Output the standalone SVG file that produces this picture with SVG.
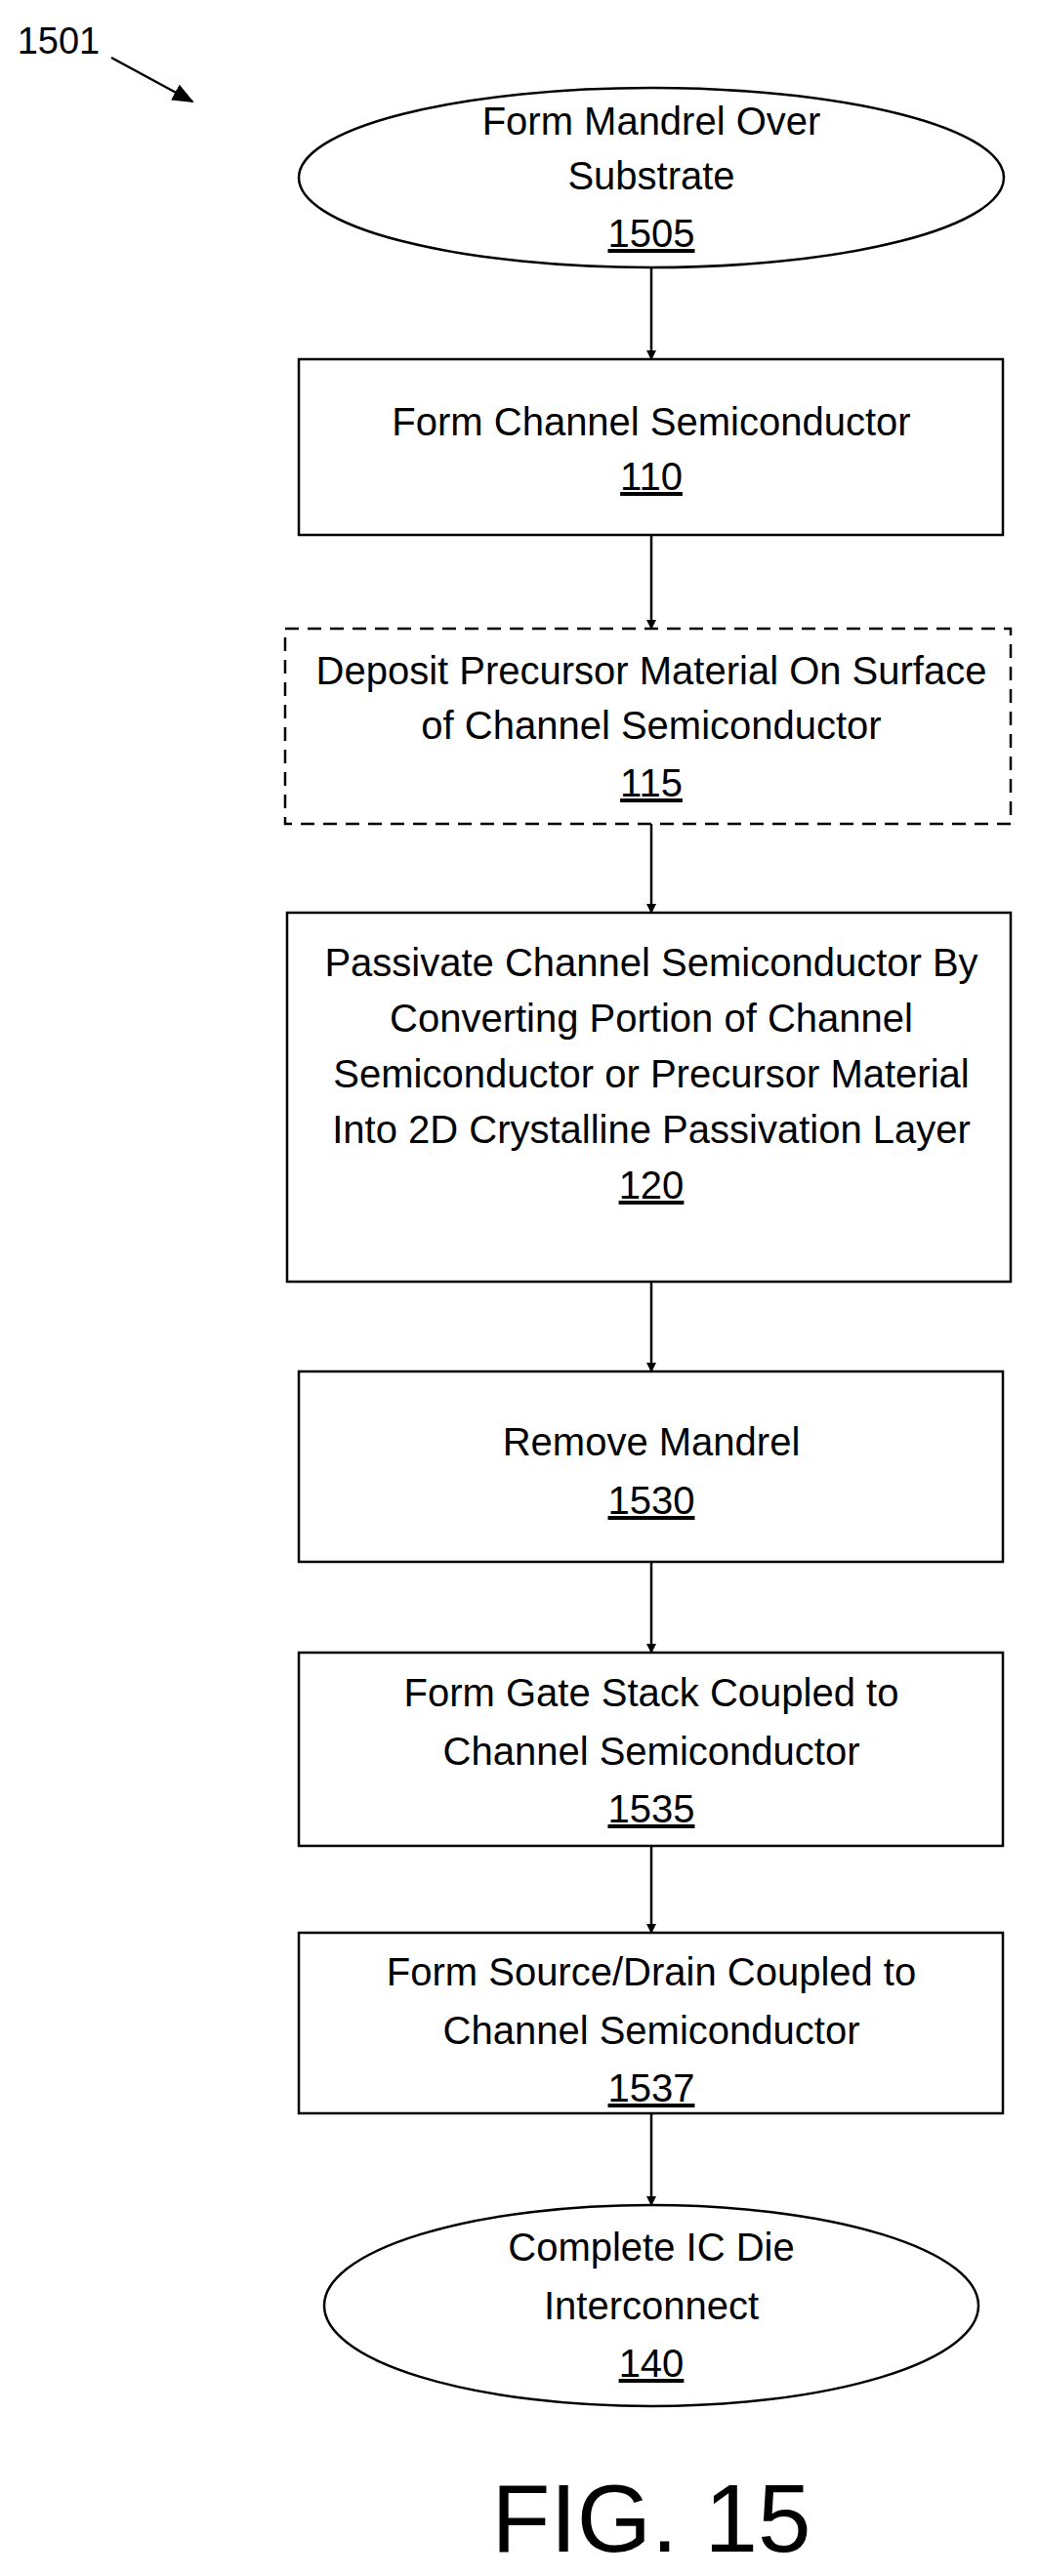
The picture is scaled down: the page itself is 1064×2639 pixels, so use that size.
<svg xmlns="http://www.w3.org/2000/svg" width="1064" height="2639" viewBox="0 0 1064 2639">
<style>
.s{fill:#fff;stroke:#000;stroke-width:2.5}
.d{fill:#fff;stroke:#000;stroke-width:2.5;stroke-dasharray:14 9}
text{font-family:"Liberation Sans",Arial,sans-serif;font-size:40px;text-anchor:middle;fill:#000}
.u{text-decoration:underline}
.c{stroke:#000;stroke-width:2.5;fill:none}
</style>
<defs><marker id="a" markerWidth="10" markerHeight="10" refX="9" refY="5" orient="auto" markerUnits="userSpaceOnUse" viewBox="0 0 10 10"><path d="M0,0 L10,5 L0,10 z"/></marker>
<marker id="b" markerWidth="22" markerHeight="18" refX="20" refY="9" orient="auto" markerUnits="userSpaceOnUse" viewBox="0 0 22 18"><path d="M0,0 L22,9 L0,18 z"/></marker></defs>
<rect width="1064" height="2639" fill="#fff"/>
<g id="label1501"><text x="60" y="55" style="font-size:38px">1501</text></g>
<g id="n1505"><ellipse class="s" cx="667" cy="182" rx="361" ry="92"/><text x="667" y="138">Form Mandrel Over</text><text x="667" y="194">Substrate</text><text x="667" y="253" class="u">1505</text></g>
<g id="n110"><rect class="s" x="306" y="368" width="721" height="180"/><text x="667" y="446">Form Channel Semiconductor</text><text x="667" y="502" class="u">110</text></g>
<g id="n115"><rect class="d" x="292" y="644" width="743" height="200"/><text x="667" y="701">Deposit Precursor Material On Surface</text><text x="667" y="757">of Channel Semiconductor</text><text x="667" y="816" class="u">115</text></g>
<g id="n120"><rect class="s" x="294" y="935" width="741" height="378"/><text x="667" y="1000">Passivate Channel Semiconductor By</text><text x="667" y="1057">Converting Portion of Channel</text><text x="667" y="1114">Semiconductor or Precursor Material</text><text x="667" y="1171">Into 2D Crystalline  Passivation Layer</text><text x="667" y="1228" class="u">120</text></g>
<g id="n1530"><rect class="s" x="306" y="1405" width="721" height="195"/><text x="667" y="1491">Remove Mandrel</text><text x="667" y="1551" class="u">1530</text></g>
<g id="n1535"><rect class="s" x="306" y="1693" width="721" height="198"/><text x="667" y="1748">Form Gate Stack Coupled to</text><text x="667" y="1808">Channel Semiconductor</text><text x="667" y="1867" class="u">1535</text></g>
<g id="n1537"><rect class="s" x="306" y="1980" width="721" height="185"/><text x="667" y="2034">Form Source/Drain Coupled to</text><text x="667" y="2094">Channel Semiconductor</text><text x="667" y="2153" class="u">1537</text></g>
<g id="n140"><ellipse class="s" cx="667" cy="2362" rx="335" ry="103"/><text x="667" y="2316">Complete IC Die</text><text x="667" y="2376">Interconnect</text><text x="667" y="2435" class="u">140</text></g>
<g id="connectors">
<line class="c" x1="114" y1="59" x2="197" y2="104" marker-end="url(#b)"/>
<line class="c" x1="667" y1="274" x2="667" y2="368" marker-end="url(#a)"/>
<line class="c" x1="667" y1="548" x2="667" y2="644" marker-end="url(#a)"/>
<line class="c" x1="667" y1="844" x2="667" y2="935" marker-end="url(#a)"/>
<line class="c" x1="667" y1="1313" x2="667" y2="1405" marker-end="url(#a)"/>
<line class="c" x1="667" y1="1600" x2="667" y2="1693" marker-end="url(#a)"/>
<line class="c" x1="667" y1="1891" x2="667" y2="1980" marker-end="url(#a)"/>
<line class="c" x1="667" y1="2165" x2="667" y2="2259" marker-end="url(#a)"/>
</g>
<text x="667" y="2614" style="font-size:98px">FIG. 15</text>
</svg>
